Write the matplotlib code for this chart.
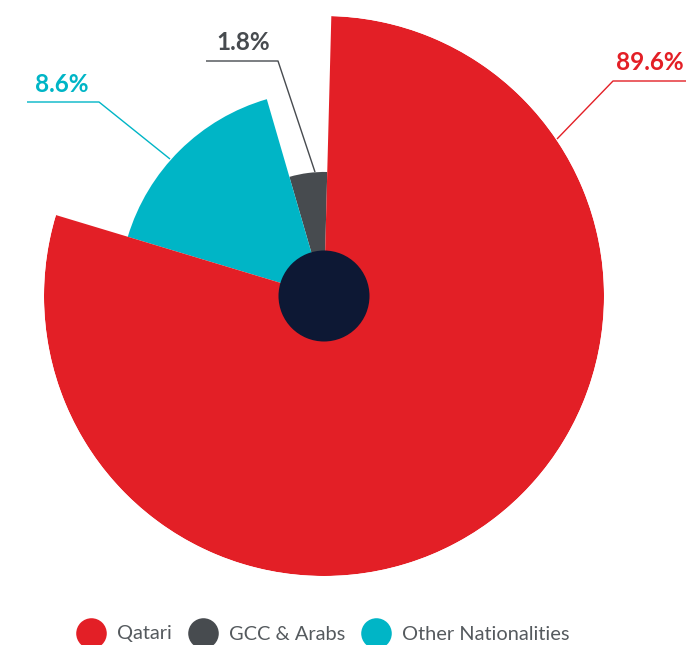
import numpy as np
import matplotlib
matplotlib.use("Agg")
import matplotlib.pyplot as plt
from matplotlib.lines import Line2D

# nationality split of the workforce
groups = ["Qatari", "GCC & Arabs", "Other Nationalities"]
shares = [89.6, 1.8, 8.6]
# sweep (degrees) and relative radius of each wedge in the rose
sweeps = [285.3, 17.7, 57.0]
radii = [1.0, 0.443, 0.732]
colors = ["#e31f26", "#474b4f", "#00b5c6"]
hub_color = "#0d1834"

W, H = 686, 645
fig = plt.figure(figsize=(W / 100, H / 100), dpi=100)

# polar axes centred on the hub, outer radius 280 px
cx, cy, R = 324, 296, 280
ax = fig.add_axes([(cx - R) / W, (H - cy - R) / H, 2 * R / W, 2 * R / H],
                  projection="polar")
ax.set_ylim(0, 1.0)
ax.axis("off")

# wedges laid out counter-clockwise starting just left of twelve o'clock
start = 88.5
order = [1, 2, 0]  # gray, cyan, red going counter-clockwise
theta = start
for i in order:
    ax.bar(np.deg2rad(theta), radii[i], width=np.deg2rad(sweeps[i]),
           align="edge", color=colors[i], edgecolor="none", linewidth=0)
    theta += sweeps[i]

ax.bar(0, 0.1625, width=2 * np.pi, color=hub_color, edgecolor="none",
       linewidth=0, zorder=5)

# overlay in pixel coordinates for the callouts
ov = fig.add_axes([0, 0, 1, 1])
ov.set_xlim(0, W)
ov.set_ylim(H, 0)
ov.axis("off")

label_font = dict(family=["Lato", "DejaVu Sans"], fontweight="bold", fontsize=17.5)
callouts = [
    # (text pos, leader polyline)
    ((650, 63), [(686, 81), (613, 81), (557, 139)]),
    ((243, 42), [(206, 61), (278, 61), (315, 172)]),
    ((62, 85), [(27, 102), (99, 102), (170, 159)]),
]
for i, ((tx, ty), pts) in enumerate(callouts):
    xs, ys = zip(*pts)
    ov.plot(xs, ys, color=colors[i], lw=1.0, solid_capstyle="butt")
    ov.text(tx, ty, f"{shares[i]}%", color=colors[i], ha="center",
            va="center", **label_font)

handles = [Line2D([], [], marker="o", ls="none", markersize=22,
                  markerfacecolor=c, markeredgecolor="none") for c in colors]
leg = fig.legend(handles, groups, loc="center", ncol=3,
                 bbox_to_anchor=(324 / W, 1 - 634 / H), frameon=False,
                 prop=dict(family=["Lato", "DejaVu Sans"], size=14.4),
                 handletextpad=0.7, columnspacing=0.95, handlelength=1.2,
                 borderpad=0)
for t in leg.get_texts():
    t.set_color("#555a5e")

fig.savefig("out.png", dpi=100, facecolor="white")
